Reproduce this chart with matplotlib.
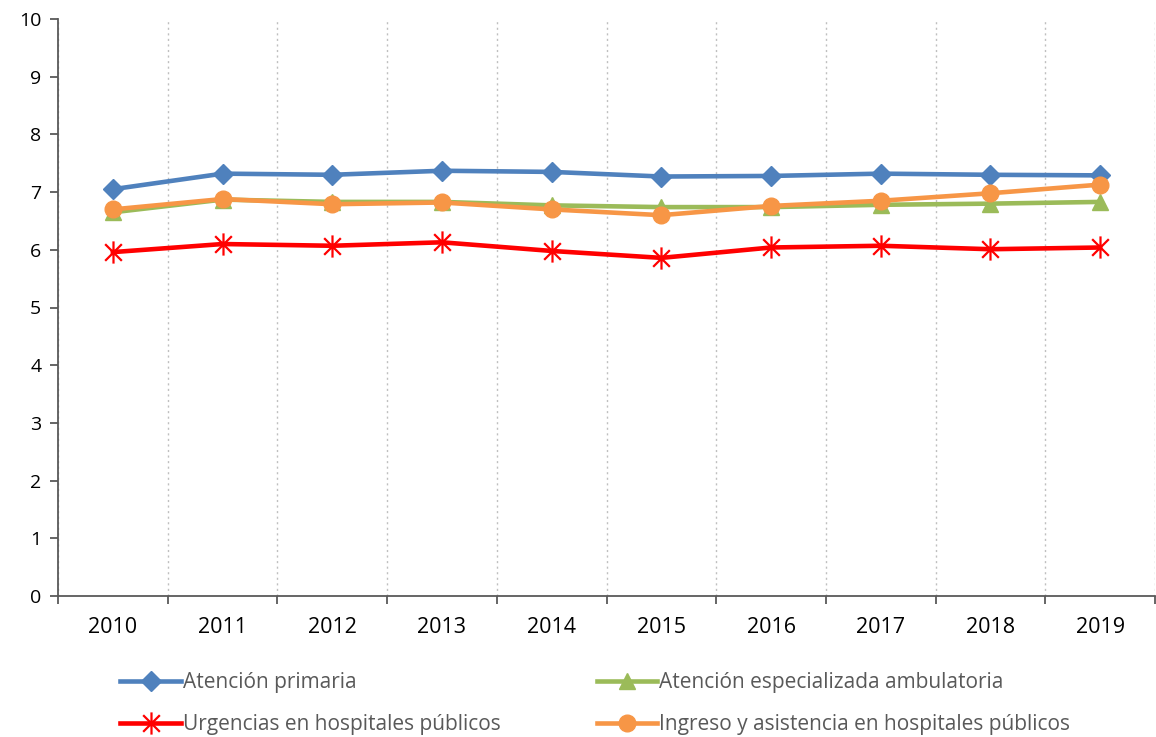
import matplotlib
matplotlib.use("Agg")
import matplotlib.pyplot as plt
from matplotlib.path import Path
import numpy as np

years = ["2010", "2011", "2012", "2013", "2014", "2015", "2016", "2017", "2018", "2019"]
atencion_primaria = [7.05, 7.32, 7.30, 7.37, 7.35, 7.27, 7.28, 7.32, 7.30, 7.29]
especializada = [6.65, 6.87, 6.83, 6.83, 6.77, 6.74, 6.74, 6.78, 6.80, 6.83]
urgencias = [5.96, 6.10, 6.07, 6.13, 5.98, 5.86, 6.04, 6.07, 6.01, 6.04]
ingreso = [6.70, 6.88, 6.79, 6.82, 6.70, 6.60, 6.76, 6.85, 6.98, 7.13]
labels = ["Atención primaria", "Atención especializada ambulatoria",
          "Urgencias en hospitales públicos", "Ingreso y asistencia en hospitales públicos"]

plt.rcParams['font.family'] = ['Open Sans', 'DejaVu Sans']

fig = plt.figure(figsize=(11.56, 7.37), dpi=100)
ax = fig.add_axes([58/1156, 1-596/737, (1155-58)/1156, (596-19)/737])

x = np.arange(len(years))
star = Path([(0, -1), (0, 1), (-0.75, -0.75), (0.75, 0.75), (-0.75, 0.75), (0.75, -0.75)],
            [Path.MOVETO, Path.LINETO, Path.MOVETO, Path.LINETO, Path.MOVETO, Path.LINETO])

h1, = ax.plot(x, atencion_primaria, color='#4F81BD', lw=3.3, marker='D', ms=10, label=labels[0], zorder=4)
h2, = ax.plot(x, especializada, color='#9BBB59', lw=3.3, marker='^', ms=12, label=labels[1], zorder=3)
h3, = ax.plot(x, urgencias, color='#FF0000', lw=3.3, marker=star, ms=16, mew=1.6, label=labels[2], zorder=3)
h4, = ax.plot(x, ingreso, color='#F79646', lw=3.3, marker='o', ms=12, label=labels[3], zorder=5)

ax.set_xlim(-0.5, 9.5)
ax.set_ylim(0, 10)
ax.set_yticks(range(0, 11))
ax.set_xticks(np.arange(-0.5, 10, 1))
ax.set_xticklabels([])
ax.set_xticks(x, minor=True)
ax.set_xticklabels(years, minor=True)
ax.tick_params(axis='x', which='major', length=6, width=1.3, color='#595959', direction='out')
ax.tick_params(axis='x', which='minor', length=0, pad=15, labelsize=15.5)
ax.tick_params(axis='y', length=6, width=1.3, color='#595959', labelsize=14, pad=6)

ax.xaxis.grid(True, which='major', color='#BFBFBF', linestyle=(0, (1.5, 2.5)), lw=1)
for s in ['top', 'right']:
    ax.spines[s].set_visible(False)
for s in ['left', 'bottom']:
    ax.spines[s].set_color('#595959')
    ax.spines[s].set_linewidth(1.3)

leg = fig.legend([h1, h3, h2, h4], [labels[0], labels[2], labels[1], labels[3]],
                 ncol=2, loc='upper left', bbox_to_anchor=(110/1156, 1-662/737),
                 frameon=False, fontsize=15, handlelength=2.9, handletextpad=0.1,
                 borderpad=0, columnspacing=4.6, labelspacing=1.0, labelcolor='#595959')

fig.savefig("out.png", dpi=100)
